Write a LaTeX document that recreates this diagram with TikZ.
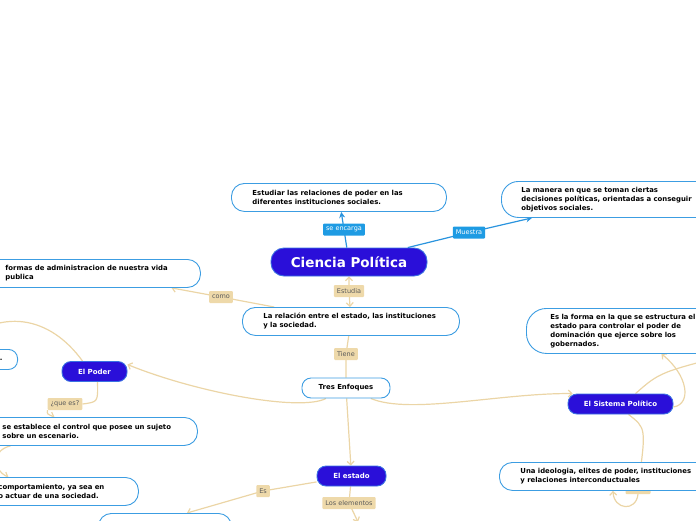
\documentclass[tikz,border=0pt]{standalone}
\usepackage{fontspec}
\setmainfont{DejaVu Sans}
\usetikzlibrary{arrows.meta,backgrounds}
\definecolor{cajaazul}{HTML}{3C9DE2}
\definecolor{temaazul}{HTML}{2A0FD9}
\definecolor{bordeazul}{HTML}{3A72E2}
\definecolor{etiqazul}{HTML}{1E9BE3}
\definecolor{lineaazul}{HTML}{2A94DE}
\definecolor{beige}{HTML}{EED9AA}
\definecolor{lineabeige}{HTML}{EBD5A6}
\definecolor{gristexto}{HTML}{5A5A5A}

\begin{document}
\begin{tikzpicture}[x=1pt,y=-1pt,
    >={Straight Barb[length=3.5pt,width=7pt]},
    caja/.style={draw=cajaazul, line width=0.9pt, fill=white, rounded corners=13pt,
        anchor=north west, align=left, font=\fontsize{6.9}{9}\selectfont\bfseries,
        inner xsep=21pt, inner ysep=0pt, minimum height=28pt},
    tema/.style={draw=bordeazul, line width=0.9pt, fill=temaazul, text=white,
        rounded corners=9pt, font=\fontsize{7}{8}\selectfont\bfseries,
        minimum height=20pt, inner sep=0pt},
    etiq/.style={fill=beige, text=gristexto, font=\fontsize{6.5}{7}\selectfont,
        inner xsep=3pt, inner ysep=0pt, minimum height=12pt, rounded corners=1pt},
    etiqblue/.style={etiq, fill=etiqazul, text=white},
    enlace/.style={draw=lineabeige, line width=1.2pt},
    enlaceazul/.style={draw=lineaazul, line width=1.2pt}]
    \useasboundingbox (0,0) rectangle (696,520);

    % Nodo central
    \node[tema, font=\fontsize{13.5}{15}\selectfont\bfseries, minimum width=156pt,
        minimum height=28pt, rounded corners=13pt] (cp) at (349,262) {Ciencia Política};

    % Cajas de arriba
    \node[caja, text width=173pt] (est) at (231,183)
        {Estudiar las relaciones de poder en las\\diferentes instituciones sociales.};
    \node[caja, text width=180pt, inner xsep=20pt, minimum height=36pt, rounded corners=17pt] (man) at (501,181)
        {La manera en que se toman ciertas\\decisiones políticas, orientadas a conseguir\\objetivos sociales.};
    \node[caja, text width=175pt, inner xsep=20pt] (form) at (-15,259)
        {formas de administracion de nuestra vida\\publica};
    \node[caja, text width=175pt] (rel) at (242,307)
        {La relación entre el estado, las instituciones\\y la sociedad.};
    \node[caja, anchor=center, align=center, inner xsep=0pt, minimum width=88pt,
        minimum height=20pt, rounded corners=9pt] (tres) at (346,388) {Tres Enfoques};

    % Temas
    \node[tema, minimum width=65pt] (poder) at (94.5,371.5) {El Poder};
    \node[tema, minimum width=69pt] (estado) at (351.5,476) {El estado};
    \node[tema, minimum width=105pt] (sistema) at (620.5,404) {El Sistema Político};

    % Cajas de la izquierda
    \node[caja, anchor=north east, align=right, text width=120pt, inner xsep=15pt,
        minimum height=20pt, rounded corners=9pt] (punto) at (18,349) {.};
    \node[caja, text width=175pt, inner xsep=20pt] (estab) at (-18,417)
        {se establece el control que posee un sujeto\\sobre un escenario.};
    \node[caja, text width=110pt, inner xsep=30pt] (comp) at (-32,477)
        {comportamiento, ya sea en\\o actuar de una sociedad.};
    \node[caja, minimum width=133pt] (abajo) at (98,513) {};

    % Cajas de la derecha
    \node[caja, text width=165pt, inner xsep=24pt, minimum height=45pt, rounded corners=20pt] (forma) at (526,308)
        {Es la forma en la que se estructura el\\estado para controlar el poder de\\dominación que ejerce sobre los\\gobernados.};
    \node[etiq, minimum width=25pt] (oculta) at (638,488) {};
    \node[caja, text width=185pt] (ideo) at (499,462)
        {Una ideologia, elites de poder, instituciones\\y relaciones interconductuales};

    % Etiquetas
    \node[etiqblue] (encarga) at (344,229.5) {se encarga};
    \node[etiqblue] (muestra) at (469,232.5) {Muestra};
    \node[etiq] (estudia) at (349,291) {Estudia};
    \node[etiq] (como) at (221,297) {como};
    \node[etiq] (tiene) at (346,354) {Tiene};
    \node[etiq] (quees) at (65,404) {¿que es?};
    \node[etiq] (es) at (263,491) {Es};
    \node[etiq] (elementos) at (349,503) {Los elementos};

    \coordinate (sisfuera) at (740,352);
    \coordinate (elemfin) at (358,522);

    % Conexiones
    \begin{scope}[on background layer]
        \draw[enlaceazul, -{Stealth[length=6pt,width=6pt]}] (cp) -- (encarga.center) -- (est);
        \draw[enlaceazul, -{Stealth[length=6pt,width=6pt]}] (cp) -- (muestra.center) -- (man);
        \draw[enlace, <->] (cp) -- (estudia.center) -- (rel);
        \draw[enlace, ->] (rel) -- (como.center) -- (form);
        \draw[enlace] (rel) -- (tiene.center) -- (tres);
        \draw[enlace, ->] (tres) .. controls (300,412) and (195,392) .. ([yshift=7pt]poder.east);
        \draw[enlace, ->] (tres) .. controls (410,415) and (500,393) .. ([xshift=5pt]sistema.north west);
        \draw[enlace, ->] (tres) -- (estado);
        \draw[enlace, ->] ([xshift=-12pt]poder.north) .. controls (50,316) and (0,306) .. (punto);
        \draw[enlace] ([xshift=3pt]poder.south) .. controls (98,402) .. (quees.east);
        \draw[enlace, ->] (quees.south west) .. controls (47,414) .. ([xshift=-35.5pt]estab.north);
        \draw[enlace, ->] ([xshift=-79.5pt]estab.south) .. controls (-8,450) and (-8,470) .. ([xshift=-45pt]comp.north);
        \draw[enlace, ->] (estado) -- (es.center) -- ([xshift=22pt]abajo.north);
        \draw[enlace, ->] (estado) -- (elementos.center) -- (elemfin);
        \draw[enlace, ->] ([yshift=-3pt]sistema.east) .. controls (692,404) and (688,375) .. ([xshift=28.5pt]forma.south);
        \draw[enlace] ([xshift=15pt]sistema.north) .. controls (660,372) .. (sisfuera);
        \draw[enlace] ([xshift=8pt]sistema.south) .. controls (646,428) .. (oculta);
        \draw[enlace, ->] (oculta.south) .. controls (636,512) and (614,510) .. (ideo.south);
    \end{scope}
\end{tikzpicture}
\end{document}
